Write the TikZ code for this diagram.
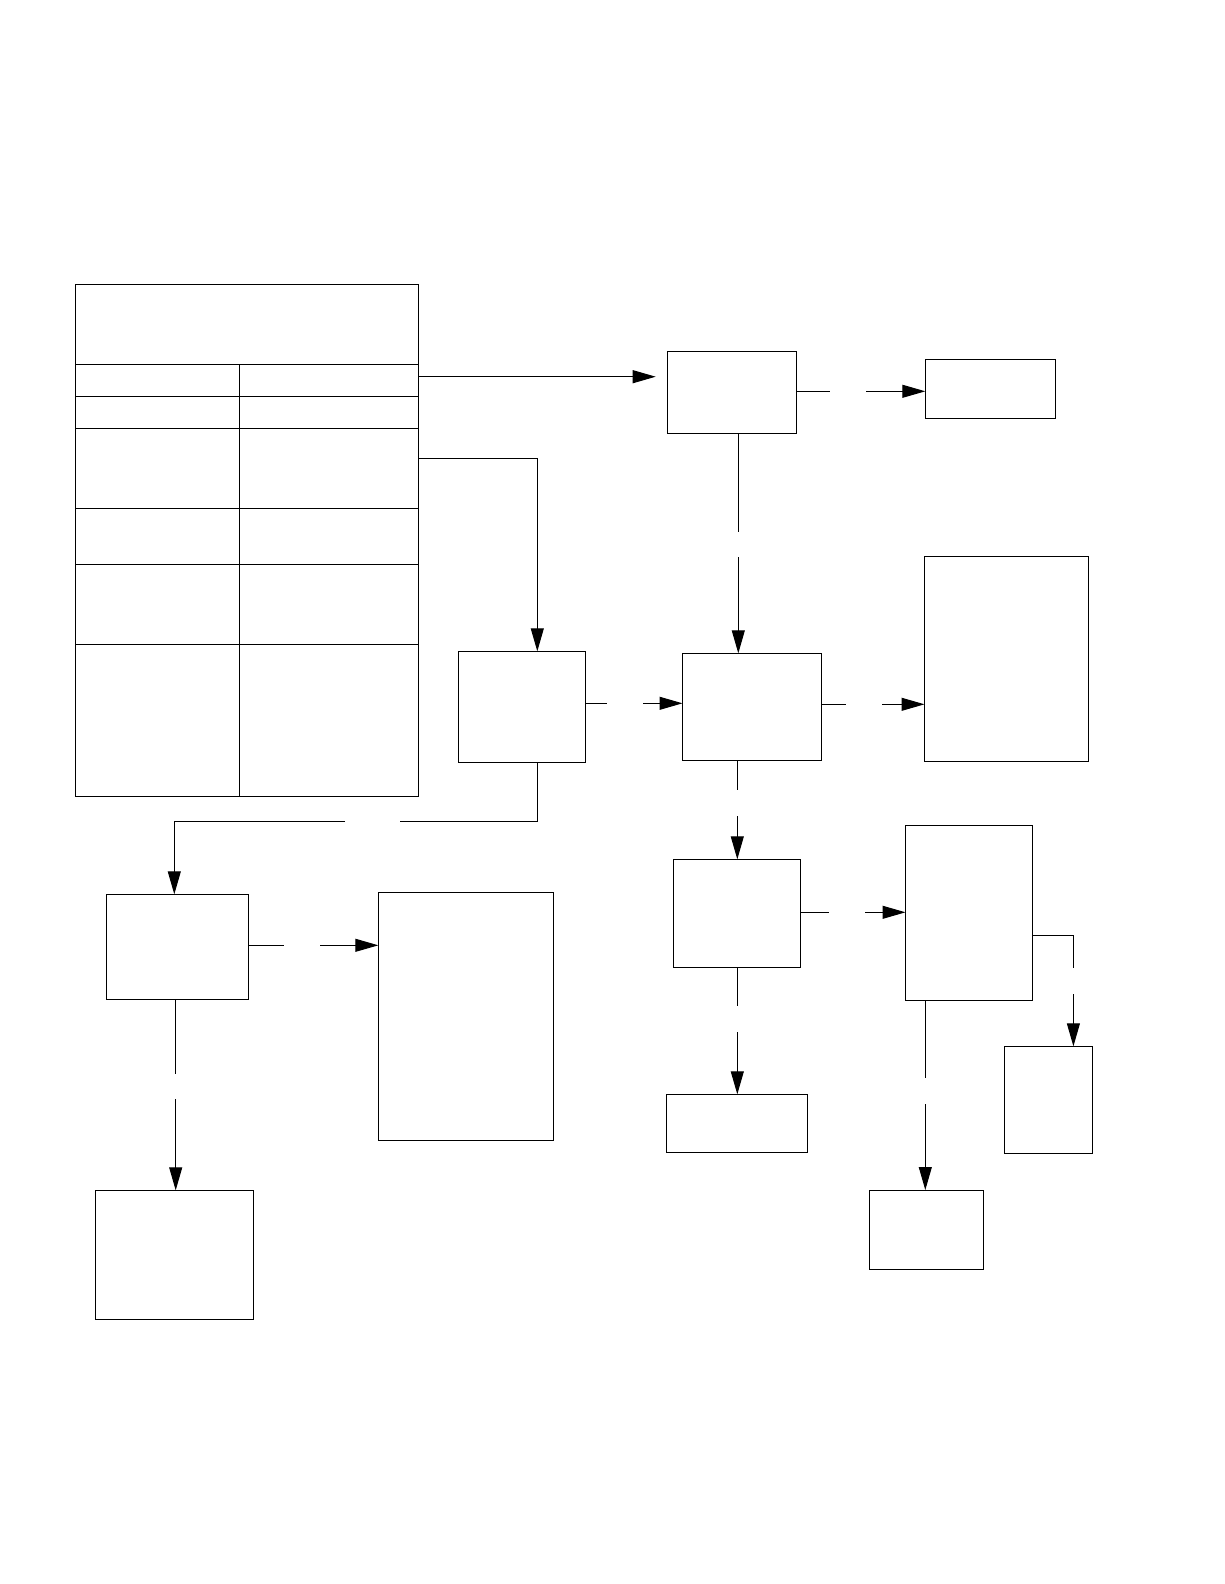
\documentclass[tikz,border=0pt]{standalone}
\usetikzlibrary{arrows.meta,calc}
\begin{document}
\begin{tikzpicture}[x=1pt,y=-1pt]
\tikzset{
  box/.style={draw, line width=1pt, inner sep=0pt, outer sep=0pt, anchor=north west},
  conn/.style={line width=1pt},
  arr/.style={line width=1pt, -{Triangle[length=23pt,width=13pt]}}
}
\useasboundingbox (0,0) rectangle (1224,1584);
% boxes
\node[box, minimum width=343pt, minimum height=512.4pt] (tab) at (75.3,284.3) {};
\node[box, minimum width=129.4pt, minimum height=82pt] (A) at (667.3,351.3) {};
\node[box, minimum width=130.4pt, minimum height=59pt] (B) at (925.3,359.3) {};
\node[box, minimum width=164.2pt, minimum height=205.3pt] (E) at (924.5,556) {};
\node[box, minimum width=127.3pt, minimum height=111pt] (D) at (458.2,651.3) {};
\node[box, minimum width=138.9pt, minimum height=107pt] (C) at (682.5,653.3) {};
\node[box, minimum width=126.9pt, minimum height=108pt] (F) at (673.4,859.3) {};
\node[box, minimum width=126.9pt, minimum height=175pt] (G) at (905.5,825.3) {};
\node[box, minimum width=88pt, minimum height=107pt] (H) at (1004.3,1046.3) {};
\node[box, minimum width=142.4pt, minimum height=105pt] (I) at (106.3,894.3) {};
\node[box, minimum width=175.4pt, minimum height=248pt] (J) at (378.3,892.3) {};
\node[box, minimum width=158.4pt, minimum height=128.7pt] (K) at (95.3,1190.3) {};
\node[box, minimum width=141pt, minimum height=58pt] (L) at (666.3,1094.3) {};
\node[box, minimum width=114pt, minimum height=79pt] (M) at (869.3,1190) {};
% table grid
\foreach \yy in {364.3,396.3,428.3,508.3,564.3,644.3}
  \draw[conn] (tab.west |- 0,\yy) -- (tab.east |- 0,\yy);
\draw[conn] (239.3,364.3) -- (tab.south -| 239.3,0);
% connectors
\draw[arr, shorten >=11.6pt] (tab.east |- 0,376.7) -- (A.west |- 0,376.7);
\draw[arr] (tab.east |- 0,458.5) -| (D.north -| 537.3,0);
\draw[conn] (A.east |- 0,391.3) -- (830,391.3);
\draw[arr] (866,391.3) -- (B.west |- 0,391.3);
\draw[conn] (A.south -| 738.3,0) -- (738.3,531.7);
\draw[arr] (738.3,557) -- (C.north -| 738.3,0);
\draw[conn] (D.east |- 0,703.3) -- (607,703.3);
\draw[arr] (643,703.3) -- (C.west |- 0,703.3);
\draw[conn] (C.east |- 0,704.3) -- (845.5,704.3);
\draw[arr] (882,704.3) -- (E.west |- 0,704.3);
\draw[conn] (C.south -| 737.3,0) -- (737.3,789.7);
\draw[arr] (737.3,816) -- (F.north -| 737.3,0);
\draw[conn] (D.south -| 537.4,0) |- (400,821.3);
\draw[arr] (345,821.3) -| (I.north -| 174.3,0);
\draw[conn] (I.east |- 0,945.3) -- (284,945.3);
\draw[arr] (320,945.3) -- (J.west |- 0,945.3);
\draw[conn] (I.south -| 175.7,0) -- (175.7,1074);
\draw[arr] (175.7,1099) -- (K.north -| 175.7,0);
\draw[conn] (F.east |- 0,912.3) -- (828.5,912.3);
\draw[arr] (865,912.3) -- (G.west |- 0,912.3);
\draw[conn] (F.south -| 737.3,0) -- (737.3,1005.7);
\draw[arr] (737.3,1032) -- (L.north -| 737.3,0);
\draw[conn] (G.east |- 0,935.3) -| (1073.4,968);
\draw[arr] (1073.4,994) -- (H.north -| 1073.4,0);
\draw[conn] (G.south -| 925.3,0) -- (925.3,1078.3);
\draw[arr] (925.3,1104) -- (M.north -| 925.3,0);
\end{tikzpicture}
\end{document}
